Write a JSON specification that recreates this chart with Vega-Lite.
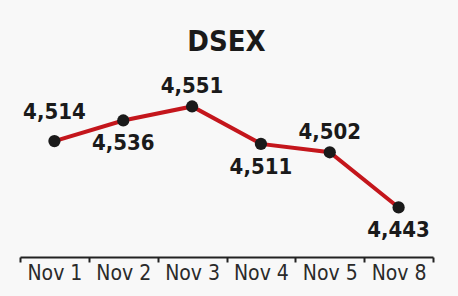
{
  "$schema": "https://vega.github.io/schema/vega-lite/v6.json",
  "width": 413,
  "height": 187,
  "autosize": "none",
  "padding": {"left": 20, "top": 70, "right": 25, "bottom": 39},
  "background": "#f8f8f8",
  "title": {
    "text": "DSEX",
    "font": "DejaVu Sans Condensed, Roboto, sans-serif",
    "fontSize": 29,
    "fontWeight": "bold",
    "color": "#1a1a1a",
    "anchor": "middle",
    "frame": "group",
    "offset": 13
  },
  "config": {"view": {"stroke": null}},
  "data": {
    "values": [
      {"date": "Nov 1", "value": 4514},
      {"date": "Nov 2", "value": 4536},
      {"date": "Nov 3", "value": 4551},
      {"date": "Nov 4", "value": 4511},
      {"date": "Nov 5", "value": 4502},
      {"date": "Nov 8", "value": 4443}
    ]
  },
  "encoding": {
    "x": {
      "field": "date",
      "type": "nominal",
      "sort": null,
      "scale": {"type": "band", "paddingInner": 0, "paddingOuter": 0},
      "axis": {
        "title": null,
        "labelAngle": 0,
        "labelFont": "DejaVu Sans Condensed, Roboto, sans-serif",
        "labelFontSize": 21,
        "labelColor": "#2a2a2a",
        "labelPadding": 0,
        "domainColor": "#222",
        "domainWidth": 2,
        "tickColor": "#222",
        "tickWidth": 2,
        "tickSize": 5,
        "tickBand": "extent",
        "grid": false
      }
    },
    "y": {
      "field": "value",
      "type": "quantitative",
      "scale": {"domain": [4390, 4590], "zero": false, "nice": false},
      "axis": null
    }
  },
  "layer": [
    {"mark": {"type": "line", "color": "#c4161c", "strokeWidth": 4}},
    {"mark": {"type": "point", "filled": true, "color": "#1a1a1a", "opacity": 1, "size": 150}},
    {
      "transform": [{"filter": {"field": "date", "oneOf": ["Nov 3", "Nov 5"]}}],
      "mark": {"type": "text", "font": "DejaVu Sans Condensed, Roboto, sans-serif", "fontWeight": "bold", "fontSize": 22, "color": "#1a1a1a", "baseline": "middle", "dy": -20},
      "encoding": {"text": {"field": "value", "type": "quantitative", "format": ","}}
    },
    {
      "transform": [{"filter": {"field": "date", "oneOf": ["Nov 1"]}}],
      "mark": {"type": "text", "font": "DejaVu Sans Condensed, Roboto, sans-serif", "fontWeight": "bold", "fontSize": 22, "color": "#1a1a1a", "baseline": "middle", "dy": -29},
      "encoding": {"text": {"field": "value", "type": "quantitative", "format": ","}}
    },
    {
      "transform": [{"filter": {"field": "date", "oneOf": ["Nov 2", "Nov 4", "Nov 8"]}}],
      "mark": {"type": "text", "font": "DejaVu Sans Condensed, Roboto, sans-serif", "fontWeight": "bold", "fontSize": 22, "color": "#1a1a1a", "baseline": "middle", "dy": 23},
      "encoding": {"text": {"field": "value", "type": "quantitative", "format": ","}}
    }
  ]
}
